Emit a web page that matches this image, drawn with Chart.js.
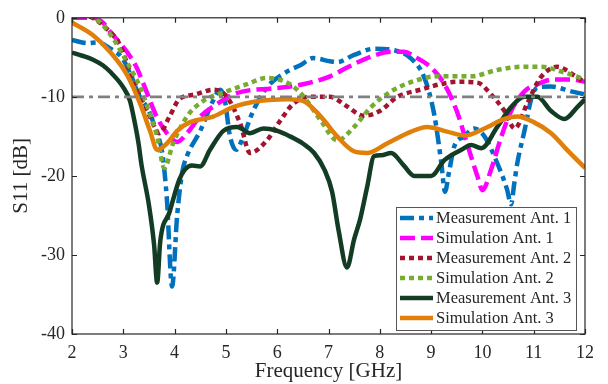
<!DOCTYPE html>
<html>
<head>
<meta charset="utf-8">
<script src="https://cdn.jsdelivr.net/npm/chart.js@4"></script>
<style>
  html, body { margin: 0; padding: 0; background: #fff; }
  #wrap { width: 608px; height: 384px; }
</style>
</head>
<body>
<div id="wrap"><canvas id="s11Chart" width="608" height="384"></canvas></div>
<script>
// axis ticks
const xTicks = [2, 3, 4, 5, 6, 7, 8, 9, 10, 11, 12];
const yTicks = [-40, -30, -20, -10, 0];

// Measurement Ant. 1
const measAnt1F = [2, 2.3, 2.5, 2.75, 2.98, 3.15, 3.3, 3.5, 3.65, 3.76, 3.85, 3.95, 4.05, 4.15, 4.24, 4.5, 4.75, 4.89, 4.98, 5.08, 5.2, 5.34, 5.53, 5.8, 6.19, 6.45, 6.7, 7.03, 7.17, 7.5, 7.9, 8.28, 8.6, 8.87, 9.06, 9.2, 9.27, 9.35, 9.45, 9.65, 9.84, 10.04, 10.29, 10.48, 10.56, 10.62, 10.68, 10.82, 10.96, 11.07, 11.34, 11.73, 12];
const measAnt1 = [-2.8, -3.2, -3.1, -3.9, -5.1, -7.3, -9.7, -11.8, -14.5, -17.1, -23, -34, -25, -19.5, -17.5, -14.3, -10.5, -9.1, -10.5, -15, -16.7, -15, -11.8, -8.8, -6.8, -6, -5.1, -5.5, -5.6, -4.7, -3.9, -4.1, -5.1, -7.6, -12.2, -18.4, -22, -19.5, -16.3, -15, -14, -15, -18.4, -21.7, -23.6, -21, -18.4, -14.3, -10.1, -8.8, -8.7, -9.3, -9.7];

// Simulation Ant. 1
const simAnt1F = [2, 2.4, 2.6, 2.75, 3.07, 3.26, 3.45, 3.65, 3.85, 4.05, 4.24, 4.5, 4.83, 5.14, 5.53, 5.8, 6.25, 6.64, 7.03, 7.36, 7.83, 8.22, 8.47, 8.73, 9.0, 9.26, 9.5, 9.7, 9.9, 10.0, 10.17, 10.37, 10.56, 10.82, 11.07, 11.4, 11.73, 12];
const simAnt1 = [0, 0, -0.6, -1.8, -4.3, -6.3, -9.3, -12.5, -14.6, -15.7, -14.6, -12.5, -10.9, -9.7, -9.1, -9.0, -8.7, -8.2, -7.4, -6.3, -4.9, -4.3, -4.3, -5.1, -6.3, -8.4, -11.8, -15.9, -20, -21.8, -19.2, -15, -11.8, -9.3, -8.4, -7.8, -7.8, -8.1];

// Measurement Ant. 2
const measAnt2F = [2, 2.4, 2.68, 2.94, 3.13, 3.33, 3.52, 3.7, 3.9, 4.09, 4.4, 4.75, 5.02, 5.28, 5.47, 5.8, 6.06, 6.31, 6.64, 7.03, 7.36, 7.68, 8.0, 8.34, 8.79, 9.18, 9.5, 9.9, 10.17, 10.43, 10.63, 10.87, 11.13, 11.46, 11.77, 12];
const measAnt2 = [0.5, 0, -1.4, -3.5, -6.8, -10, -12.5, -14.6, -12.5, -10.3, -9.7, -9.1, -10, -13.4, -17.1, -15.5, -13, -10.9, -10, -10, -11.2, -12.4, -11.8, -10, -9.1, -8.4, -8.1, -8.2, -9.7, -11.8, -14, -10.9, -7.6, -6.2, -7.2, -8.2];

// Simulation Ant. 2
const simAnt2F = [2, 2.3, 2.55, 2.8, 3.07, 3.33, 3.52, 3.66, 3.8, 3.97, 4.24, 4.56, 5.02, 5.41, 5.8, 6.25, 6.52, 6.85, 7.17, 7.5, 7.83, 8.22, 8.67, 9.12, 9.78, 10.29, 10.76, 11.15, 11.54, 12];
const simAnt2 = [1, 0.5, -0.6, -2.6, -5.6, -8.8, -12.2, -15, -19, -15.9, -12.5, -10.5, -9.3, -8.4, -7.6, -8.4, -10, -13, -15.5, -13.8, -11.3, -9.3, -8, -7.4, -7.4, -6.6, -6.2, -6.2, -6.8, -7.8];

// Measurement Ant. 3
const measAnt3F = [2, 2.2, 2.41, 2.6, 2.74, 3.0, 3.13, 3.2, 3.3, 3.35, 3.5, 3.6, 3.66, 3.72, 3.9, 4.09, 4.2, 4.34, 4.5, 4.69, 4.95, 5.22, 5.47, 5.73, 6.0, 6.25, 6.5, 6.72, 6.92, 7.07, 7.2, 7.36, 7.5, 7.62, 7.75, 7.89, 8.03, 8.22, 8.47, 8.67, 9.0, 9.26, 9.59, 9.78, 9.98, 10.29, 10.56, 10.82, 11.07, 11.34, 11.6, 11.85, 12];
const measAnt3 = [-4.4, -4.8, -5.3, -6, -6.8, -8.8, -10.5, -12.5, -16, -18.4, -23.7, -28.7, -33.5, -28.3, -24.6, -20.5, -19.2, -18.7, -18.8, -16.7, -14.3, -13.8, -14.6, -14, -14.3, -15, -15.9, -17.1, -19.2, -22, -27, -31.6, -28, -25.4, -21.5, -17.5, -17.4, -17.1, -18.7, -20, -20, -18, -16.7, -16.1, -16.5, -13.8, -11.3, -10, -10, -11.8, -12.8, -11.3, -10.3];

// Simulation Ant. 3
const simAnt3F = [2, 2.41, 2.74, 3.07, 3.33, 3.52, 3.66, 3.85, 4.05, 4.3, 4.75, 5.14, 5.67, 6.19, 6.5, 6.85, 7.17, 7.5, 7.75, 8.14, 8.61, 8.92, 9.31, 9.65, 10.04, 10.43, 10.68, 11.0, 11.34, 11.65, 12];
const simAnt3 = [-0.6, -2.2, -4.3, -7.2, -10.9, -14.3, -16.7, -15.9, -14.3, -13.2, -12.5, -11.3, -10.5, -10.3, -10.5, -12.5, -15, -16.9, -17.1, -15.9, -14.4, -13.8, -14.4, -14.9, -14, -12.8, -12.5, -13.2, -14.6, -16.7, -19];

// -10 dB reference
const refF = [2, 12];
const refLevel = [-10, -10];

const FONT = "'Liberation Serif', 'Times New Roman', serif";
const TXT = "#262626";

const pts = (f, v) => f.map((x, i) => ({ x, y: v[i] }));

const series = [
  { label: "Measurement Ant. 1", f: measAnt1F, v: measAnt1, color: "#0072BD", dash: [14, 5, 5, 5] },
  { label: "Simulation Ant. 1", f: simAnt1F, v: simAnt1, color: "#FF00FF", dash: [15, 6] },
  { label: "Measurement Ant. 2", f: measAnt2F, v: measAnt2, color: "#A2142F", dash: [5, 4] },
  { label: "Simulation Ant. 2", f: simAnt2F, v: simAnt2, color: "#77AC30", dash: [5, 4] },
  { label: "Measurement Ant. 3", f: measAnt3F, v: measAnt3, color: "#123C24", dash: [] },
  { label: "Simulation Ant. 3", f: simAnt3F, v: simAnt3, color: "#E0800A", dash: [] }
];

const datasets = series.map((s, i) => ({
  label: s.label,
  data: pts(s.f, s.v),
  borderColor: s.color,
  backgroundColor: s.color,
  borderWidth: 4.5,
  borderDash: s.dash,
  borderCapStyle: "butt",
  pointRadius: 0,
  cubicInterpolationMode: "monotone",
  fill: false,
  order: 10 - i
}));

datasets.push({
  label: "ref",
  data: pts(refF, refLevel),
  borderColor: "#808080",
  borderWidth: 2.6,
  borderDash: [12, 5, 4, 5],
  borderCapStyle: "butt",
  pointRadius: 0,
  fill: false,
  order: 0
});

// frame, inward ticks and the boxed legend
const framePlugin = {
  id: "frame",
  afterDraw(chart) {
    const { ctx, chartArea: a, scales: { x, y } } = chart;
    ctx.save();
    ctx.strokeStyle = TXT;
    ctx.lineWidth = 1.2;
    ctx.strokeRect(a.left, a.top, a.right - a.left, a.bottom - a.top);
    const tl = 5;
    ctx.beginPath();
    xTicks.forEach(v => {
      const px = Math.round(x.getPixelForValue(v)) + 0.5;
      ctx.moveTo(px, a.bottom); ctx.lineTo(px, a.bottom - tl);
      ctx.moveTo(px, a.top); ctx.lineTo(px, a.top + tl);
    });
    yTicks.forEach(v => {
      const py = Math.round(y.getPixelForValue(v)) + 0.5;
      ctx.moveTo(a.left, py); ctx.lineTo(a.left + tl, py);
      ctx.moveTo(a.right, py); ctx.lineTo(a.right - tl, py);
    });
    ctx.stroke();

    // legend
    const lx = 396, ly = 207, lw = 180, lh = 123, row = 20;
    ctx.fillStyle = "#fff";
    ctx.fillRect(lx, ly, lw, lh);
    ctx.strokeStyle = "#555";
    ctx.lineWidth = 1;
    ctx.strokeRect(lx + 0.5, ly + 0.5, lw, lh);
    ctx.font = "16.5px " + FONT;
    ctx.textBaseline = "middle";
    ctx.textAlign = "left";
    series.forEach((s, i) => {
      const cy = ly + 11 + i * row;
      ctx.beginPath();
      ctx.strokeStyle = s.color;
      ctx.lineWidth = 4.5;
      ctx.lineCap = "butt";
      ctx.setLineDash(s.dash);
      ctx.moveTo(lx + 4, cy);
      ctx.lineTo(lx + 37, cy);
      ctx.stroke();
      ctx.setLineDash([]);
      ctx.fillStyle = TXT;
      ctx.fillText(s.label, lx + 40, cy + 1);
    });
    ctx.restore();
  }
};

new Chart(document.getElementById("s11Chart").getContext("2d"), {
  type: "line",
  data: { datasets },
  options: {
    responsive: false,
    devicePixelRatio: 1,
    animation: false,
    layout: { padding: { left: 0, right: 23, top: 12, bottom: 0 } },
    plugins: {
      legend: { display: false },
      tooltip: { enabled: false }
    },
    scales: {
      x: {
        type: "linear",
        min: 2,
        max: 12,
        afterFit: s => { s.height = 50; },
        afterBuildTicks: s => { s.ticks = xTicks.map(v => ({ value: v })); },
        grid: { display: false, drawTicks: false },
        border: { display: false },
        ticks: { color: TXT, font: { family: FONT, size: 18 }, padding: 8, maxRotation: 0 },
        title: { display: true, text: "Frequency [GHz]", color: TXT, font: { family: FONT, size: 21 }, padding: { top: 0, bottom: 0 } }
      },
      y: {
        type: "linear",
        min: -40,
        max: 0,
        afterFit: s => { s.width = 72; },
        afterBuildTicks: s => { s.ticks = yTicks.map(v => ({ value: v })); },
        grid: { display: false, drawTicks: false },
        border: { display: false },
        ticks: { color: TXT, font: { family: FONT, size: 18 }, padding: 7 },
        title: { display: true, text: "S11 [dB]", color: TXT, font: { family: FONT, size: 21 }, padding: { top: 9, bottom: 4 } }
      }
    }
  },
  plugins: [framePlugin]
});
</script>
</body>
</html>
